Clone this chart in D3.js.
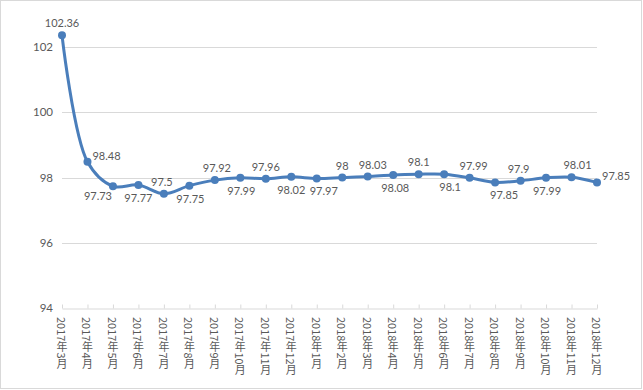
<!DOCTYPE html>
<html>
<head>
<meta charset="utf-8">
<script src="https://cdn.jsdelivr.net/npm/d3@7"></script>
<style>
  body { margin: 0; background: #fff; }
  text { font-family: Lato, "Noto Sans CJK SC", sans-serif; fill: #595959; }
</style>
</head>
<body>
<div class="canvas"></div>
<script>
// data
const months = ['2017年3月', '2017年4月', '2017年5月', '2017年6月', '2017年7月', '2017年8月',
  '2017年9月', '2017年10月', '2017年11月', '2017年12月', '2018年1月', '2018年2月',
  '2018年3月', '2018年4月', '2018年5月', '2018年6月', '2018年7月', '2018年8月',
  '2018年9月', '2018年10月', '2018年11月', '2018年12月'];
const values = [102.36, 98.48, 97.73, 97.77, 97.5, 97.75, 97.92, 97.99, 97.96, 98.02, 97.97, 98,
  98.03, 98.08, 98.1, 98.1, 97.99, 97.85, 97.9, 97.99, 98.01, 97.85];
const yTicks = [94, 96, 98, 100, 102];
// where each value label sits relative to its point
const labelPos = ['t', 'r', 'bl', 'b', 't', 'b', 't', 'b', 't', 'b', 'b', 't',
  't', 'b', 't', 'b', 't', 'b', 't', 'b', 't', 'r'];
const labelShift = [0, 0, 0, 0, -2, 1, 2, 1, 0, 0, 7, 0, 5, 2, 0, 6, 4, 9, -2, 1, 6, 0];

const width = 643, height = 390;
const margin = { top: 47, right: 46, bottom: 82, left: 62 };
const graphWidth = width - margin.left - margin.right;
const graphHeight = height - margin.top - margin.bottom;

const svg = d3.select('.canvas')
    .append('svg')
    .attr('width', width)
    .attr('height', height);

// chart border
svg.append('rect')
    .attr('x', 0.5).attr('y', 0.5)
    .attr('width', 641).attr('height', 388)
    .attr('fill', '#fff')
    .attr('stroke', '#d9d9d9');

const graph = svg.append('g')
    .attr('transform', `translate(${margin.left}, ${margin.top})`);

// scales
const x = d3.scalePoint().domain(months).range([0, graphWidth]);
const y = d3.scaleLinear().domain([94, 102]).range([graphHeight, 0]);

// gridlines
graph.append('g')
    .selectAll('line')
    .data(yTicks.filter(d => d !== 94))
    .enter().append('line')
    .attr('x1', 0).attr('x2', graphWidth)
    .attr('y1', d => Math.round(y(d)) + 0.5).attr('y2', d => Math.round(y(d)) + 0.5)
    .attr('stroke', '#d9d9d9');

// y axis
const yAxisGroup = graph.append('g')
    .attr('class', 'y-axis')
    .call(d3.axisLeft(y).tickValues(yTicks).tickSize(0).tickPadding(9));
yAxisGroup.select('.domain').remove();
yAxisGroup.selectAll('text')
    .attr('font-size', 11.5)
    .style('font-family', 'Lato, sans-serif')
    .attr('fill', '#595959');

// x axis
const xAxisGroup = graph.append('g')
    .attr('class', 'x-axis')
    .attr('transform', `translate(0, ${Math.round(graphHeight) + 0.5})`)
    .call(d3.axisBottom(x).tickSize(-4).tickSizeOuter(0).tickFormat(''));
xAxisGroup.select('.domain').attr('stroke', '#d9d9d9');
xAxisGroup.selectAll('.tick line').attr('stroke', '#d9d9d9');

// vertical month labels
graph.append('g')
    .selectAll('text')
    .data(months)
    .enter().append('text')
    .attr('x', d => x(d))
    .attr('y', graphHeight + 9)
    .attr('font-size', 11)
    .style('writing-mode', 'vertical-rl')
    .style('font-family', '"Noto Sans CJK SC", sans-serif')
    .text(d => d);

// line
const line = d3.line()
    .curve(d3.curveCatmullRom.alpha(0.5))
    .x((d, i) => x(months[i]))
    .y(d => y(d));

graph.append('path')
    .datum(values)
    .attr('fill', 'none')
    .attr('stroke', '#4a7ebb')
    .attr('stroke-width', 3)
    .attr('stroke-linejoin', 'round')
    .attr('d', line);

// points
graph.selectAll('circle')
    .data(values)
    .enter().append('circle')
    .attr('cx', (d, i) => x(months[i]))
    .attr('cy', d => y(d))
    .attr('r', 4)
    .attr('fill', '#4a7ebb');

// value labels
const offsets = {
  t: [0, -8, 'middle'],
  b: [0, 17, 'middle'],
  r: [5, -2, 'start'],
  bl: [-15, 14, 'middle']
};
graph.append('g')
    .selectAll('text')
    .data(values)
    .enter().append('text')
    .attr('x', (d, i) => x(months[i]) + offsets[labelPos[i]][0] + labelShift[i])
    .attr('y', d => y(d))
    .attr('dy', (d, i) => offsets[labelPos[i]][1])
    .attr('text-anchor', (d, i) => offsets[labelPos[i]][2])
    .attr('font-size', 11)
    .attr('fill', '#404040')
    .text(d => d);
</script>
</body>
</html>
